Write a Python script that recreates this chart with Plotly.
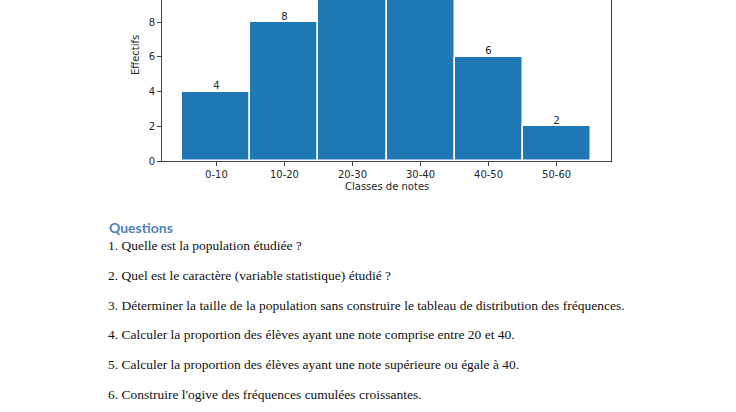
import plotly.graph_objects as go

# DATA
classes = ["0-10", "10-20", "20-30", "30-40", "40-50", "50-60"]
effectifs = [4, 8, 10, 10, 6, 2]
y_ticks = [0, 2, 4, 6, 8]

questions_title = "Questions"
questions = [
    "1. Quelle est la population étudiée ?",
    "2. Quel est le caractère (variable statistique) étudié ?",
    "3. Déterminer la taille de la population sans construire le tableau de distribution des fréquences.",
    "4. Calculer la proportion des élèves ayant une note comprise entre 20 et 40.",
    "5. Calculer la proportion des élèves ayant une note supérieure ou égale à 40.",
    "6. Construire l'ogive des fréquences cumulées croissantes.",
]

W, H = 736, 412
tick_font = dict(family="DejaVu Sans", size=10, color="#262626")

# PLOT AREA (pixels -> paper fractions); the top of the chart is cut by the page
x0, x1 = 162, 611
y_bottom = 161
y_max = y_bottom / 17.375

fig = go.Figure()
fig.add_trace(go.Bar(
    x=list(range(len(classes))), y=effectifs,
    width=1, marker=dict(color="#1f77b4", line=dict(color="white", width=1.5)),
    hoverinfo="skip",
))
fig.add_trace(go.Scatter(
    x=list(range(len(classes))), y=effectifs, mode="text",
    text=[str(v) if v < y_max - 0.6 else "" for v in effectifs],
    textposition="top center",
    textfont=tick_font, cliponaxis=True, hoverinfo="skip",
))

fig.update_layout(
    width=W, height=H,
    margin=dict(l=0, r=0, t=0, b=0, autoexpand=False),
    paper_bgcolor="white", plot_bgcolor="white",
    showlegend=False, bargap=0,
    xaxis=dict(
        domain=[x0 / W, x1 / W], range=[-0.8, 5.8], automargin=False,
        tickmode="array", tickvals=list(range(len(classes))), ticktext=classes,
        showgrid=False, zeroline=False, showline=True, linecolor="#444", linewidth=1,
        ticks="outside", ticklen=4, tickcolor="#444", tickfont=tick_font,
    ),
    yaxis=dict(
        domain=[1 - y_bottom / H, 1], range=[0, y_max], automargin=False,
        tickmode="array", tickvals=y_ticks,
        showgrid=False, zeroline=False, showline=True, mirror=True,
        linecolor="#444", linewidth=1,
        ticks="outside", ticklen=4, tickcolor="#444", tickfont=tick_font,
    ),
)

# axis titles
fig.add_annotation(x=(x0 + x1) / 2 / W, y=1 - 186 / H, xref="paper", yref="paper",
                   text="Classes de notes", showarrow=False, font=tick_font,
                   xanchor="center", yanchor="middle")
fig.add_annotation(x=135 / W, y=1 - 55 / H, xref="paper", yref="paper",
                   text="Effectifs", showarrow=False, font=tick_font, textangle=-90,
                   xanchor="center", yanchor="middle")

# questions text
fig.add_annotation(x=107 / W, y=1 - 227 / H, xref="paper", yref="paper",
                   text="<b>" + questions_title + "</b>", showarrow=False,
                   font=dict(family="Lato", size=14, color="#4f81bd"),
                   xanchor="left", yanchor="middle")
for i, q in enumerate(questions):
    fig.add_annotation(x=106 / W, y=1 - (246 + i * 29.6) / H, xref="paper", yref="paper",
                       text=q, showarrow=False,
                       font=dict(family="Liberation Serif", size=13.5, color="#111"),
                       xanchor="left", yanchor="middle")

# page has a default body margin; drop it so the figure sits at the window corner
fig.write_html("out.html", config={"displayModeBar": False},
               post_script="document.body.style.margin = '0';")
